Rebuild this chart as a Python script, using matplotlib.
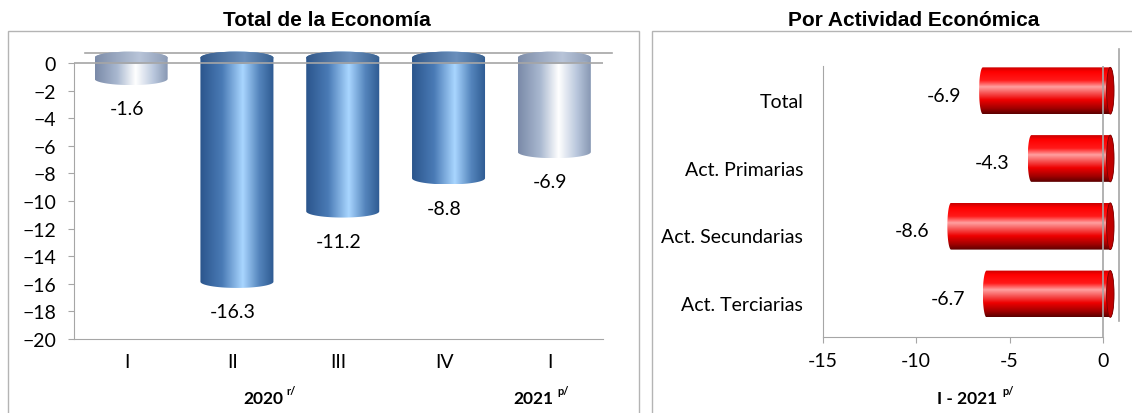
import numpy as np
import matplotlib.pyplot as plt
from matplotlib.colors import LinearSegmentedColormap
from matplotlib.patches import PathPatch, Ellipse, Rectangle
from matplotlib.path import Path

# data
quarters = ["I", "II", "III", "IV", "I"]
total_values = [-1.6, -16.3, -11.2, -8.8, -6.9]
bar_styles = ["silver", "blue", "blue", "blue", "silver"]

activities = ["Total", "Act. Primarias", "Act. Secundarias", "Act. Terciarias"]
activity_values = [-6.9, -4.3, -8.6, -6.7]

FONT = "Lato"
GRID = "#a6a6a6"
FS = 14

cmaps = {
    "blue": LinearSegmentedColormap.from_list("b", [(0, "#2b558c"), (0.3, "#4a7bb6"), (0.58, "#a9d6ff"),
                                                     (0.8, "#5585bd"), (1, "#2d5a91")]),
    "silver": LinearSegmentedColormap.from_list("s", [(0, "#7a8aa8"), (0.3, "#a9b8d0"), (0.55, "#ffffff"),
                                                       (0.8, "#b8c6dc"), (1, "#8494b0")]),
}
caps = {
    "blue": LinearSegmentedColormap.from_list("bc", [(0, "#33598a"), (0.6, "#6a8fbc"), (1, "#3a6291")]),
    "silver": LinearSegmentedColormap.from_list("sc", [(0, "#7e8eaa"), (0.6, "#b8c4d8"), (1, "#8c9bb5")]),
}
red_cmap = LinearSegmentedColormap.from_list("r", [(0, "#5a0000"), (0.12, "#a00000"), (0.3, "#ee0000"),
                                                    (0.58, "#ffa0a0"), (0.72, "#ff1a1a"), (0.9, "#ff0000"),
                                                    (1, "#c80000")])
grad = np.linspace(0, 1, 256)


def vcyl(ax, x, v, w, cmap, capmap, top=0.38, ry=0.45):
    bot = v + ry
    a = np.linspace(np.pi, 2 * np.pi, 40)
    b = np.linspace(0, np.pi, 40)
    xs = np.concatenate([[x - w / 2], x + w / 2 * np.cos(a), [x + w / 2], x + w / 2 * np.cos(b)])
    ys = np.concatenate([[top], bot + ry * np.sin(a), [top], top + ry * np.sin(b)])
    patch = PathPatch(Path(np.column_stack([xs, ys])), fc="none", ec="none")
    ax.add_patch(patch)
    im = ax.imshow(grad.reshape(1, -1), cmap=cmap, aspect="auto", origin="lower",
                   extent=(x - w / 2, x + w / 2, v, top + ry), zorder=2)
    im.set_clip_path(patch)
    cap = Ellipse((x, top), w, 2 * ry, fc="none", ec="none")
    ax.add_patch(cap)
    im2 = ax.imshow(grad.reshape(1, -1), cmap=capmap, aspect="auto", origin="lower",
                    extent=(x - w / 2, x + w / 2, top - ry, top + ry), zorder=2.5)
    im2.set_clip_path(cap)


def hcyl(ax, y, v, h, shift=0.27, rx=0.2, right=0.59):
    xl = v + shift + rx
    xr = right - rx
    a = np.linspace(-np.pi / 2, np.pi / 2, 40)
    b = np.linspace(np.pi / 2, 3 * np.pi / 2, 40)
    xs = np.concatenate([xr + rx * np.cos(a), xl + rx * np.cos(b)])
    ys = np.concatenate([y + h / 2 * np.sin(a), y + h / 2 * np.sin(b)])
    patch = PathPatch(Path(np.column_stack([xs, ys])), fc="none", ec="none")
    ax.add_patch(patch)
    im = ax.imshow(grad.reshape(-1, 1), cmap=red_cmap, aspect="auto", origin="lower",
                   extent=(xl - rx, xr + rx, y + h / 2, y - h / 2), zorder=2)
    im.set_clip_path(patch)
    ax.add_patch(Ellipse((xr, y), 2 * rx, h, fc="#c00000", ec="#7a0000", lw=0.6, zorder=3))


fig = plt.figure(figsize=(11.32, 4.14), dpi=100)

# frames
fig.add_artist(Rectangle((8 / 1132, -0.1), 631 / 1132, 1 - 32 / 414 + 0.1, transform=fig.transFigure,
                         fill=False, ec="#b4b4b4", lw=1))
fig.add_artist(Rectangle((652 / 1132, -0.1), 0.5, 1 - 32 / 414 + 0.1, transform=fig.transFigure,
                         fill=False, ec="#b4b4b4", lw=1))

# left chart
ax1 = fig.add_axes([74 / 1132, 1 - 340 / 414, 529 / 1132, (340 - 51.6) / 414])
xpos = np.arange(len(quarters))
for i, (v, s) in enumerate(zip(total_values, bar_styles)):
    vcyl(ax1, i + 0.04, v, 0.69, cmaps[s], caps[s])
    ax1.annotate(f"{v:.1f}", (i, v), xytext=(0, -17), textcoords="offset points",
                 ha="center", va="center", fontsize=FS, family=FONT)
ax1.plot([-0.5, 4.5], [0, 0], color=GRID, lw=1.2, zorder=4)
ax1.plot([-0.396, 4.585], [0.72, 0.72], color=GRID, lw=1.2, zorder=1, clip_on=False)
ax1.set_xlim(-0.5, 4.5)
ax1.set_ylim(-20, 0.9)
ax1.set_yticks(range(-20, 1, 2))
ax1.set_xticks(xpos)
ax1.set_xticklabels(quarters)
ax1.spines["left"].set_bounds(-20, 0)
for sp in ["top", "right"]:
    ax1.spines[sp].set_visible(False)
for sp in ["left", "bottom"]:
    ax1.spines[sp].set_color(GRID)
ax1.tick_params(axis="y", length=4, color=GRID, pad=9, labelsize=FS)
ax1.tick_params(axis="x", length=0, pad=10, labelsize=FS)
for lab in ax1.get_xticklabels() + ax1.get_yticklabels():
    lab.set_family(FONT)

# right chart
ax2 = fig.add_axes([822.7 / 1132, 1 - 338 / 414, (1118.9 - 822.7) / 1132, 271 / 414])
for i, v in enumerate(activity_values):
    hcyl(ax2, i - 0.135, v, 0.69)
    ax2.annotate(f"{v:.1f}", (v + 0.27, i - 0.07), xytext=(-13, 0), textcoords="offset points",
                 ha="right", va="center", fontsize=FS, family=FONT)
ax2.plot([0, 0], [-0.5, 3.5], color=GRID, lw=1.2, zorder=4)
ax2.plot([0.86, 0.86], [-0.751, 3.264], color=GRID, lw=1.2, zorder=1, clip_on=False)
ax2.set_xlim(-15, 0.85)
ax2.set_ylim(3.5, -0.5)
ax2.set_yticks(range(len(activities)))
ax2.set_yticklabels(activities)
ax2.set_xticks([-15, -10, -5, 0])
ax2.set_xticklabels(["-15", "-10", "-5", "0"])
ax2.spines["bottom"].set_bounds(-15, 0)
for sp in ["top", "right"]:
    ax2.spines[sp].set_visible(False)
for sp in ["left", "bottom"]:
    ax2.spines[sp].set_color(GRID)
ax2.tick_params(axis="y", length=0, pad=14, labelsize=FS)
ax2.tick_params(axis="x", length=4, color=GRID, pad=7, labelsize=FS)
for lab in ax2.get_xticklabels() + ax2.get_yticklabels():
    lab.set_family(FONT)

# titles and axis captions
fig.text(327 / 1132, 1 - 20 / 414, "Total de la Economía", ha="center", va="center",
         fontsize=15, fontweight="bold", family="Liberation Sans")
fig.text(914 / 1132, 1 - 20 / 414, "Por Actividad Económica", ha="center", va="center",
         fontsize=15, fontweight="bold", family="Liberation Sans")

captions = [("2020", "r/", 283, 286), ("2021", "p/", 554, 557), ("I - 2021", "p/", 997, 1002)]
for main, sup, xr, xs in captions:
    fig.text(xr / 1132, 1 - 399 / 414, main, ha="right", va="center", fontsize=12.5,
             fontweight="bold", family=FONT)
    fig.text(xs / 1132, 1 - 392 / 414, sup, ha="left", va="center", fontsize=8,
             fontweight="bold", family=FONT)

fig.savefig("out.png", dpi=100)
